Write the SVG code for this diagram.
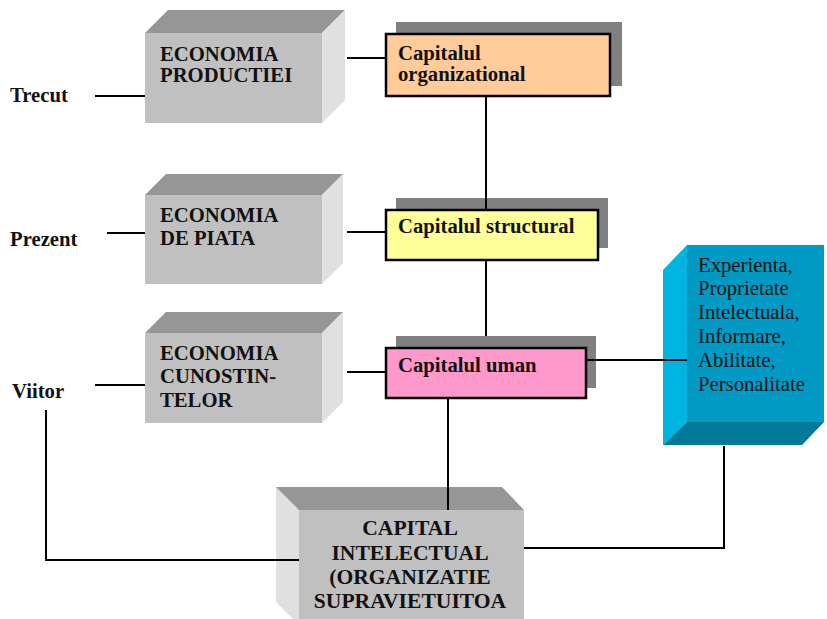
<svg xmlns="http://www.w3.org/2000/svg" width="827" height="619" viewBox="0 0 827 619">
<style>
text{font-family:"Liberation Serif","Times New Roman",serif;font-size:20.7px;fill:#111}
.b{font-weight:bold}
.big{font-size:21.6px}
.front{fill:#c0c0c0}
.top{fill:#969696}
.side{fill:#e0e0e0}
.shadow{fill:#808080}
.cap{stroke:#000;stroke-width:2.5}
.conn line,.conn polyline{stroke:#000;stroke-width:2;fill:none}
</style>
<rect width="827" height="619" fill="#fff"/>
<g id="lbl-trecut"><text class="b" x="10" y="102">Trecut</text></g>
<g id="lbl-prezent"><text class="b" x="10" y="246">Prezent</text></g>
<g id="lbl-viitor"><text class="b" x="12" y="398">Viitor</text></g>

<g id="eco-productiei">
<polygon class="top" points="145,33 168,10 345,10 322,33"/>
<polygon class="side" points="322,33 345,10 345,100 322,123"/>
<rect class="front" x="145" y="33" width="177" height="90"/>
<text class="b" x="160" y="61">ECONOMIA</text>
<text class="b" x="160" y="82">PRODUCTIEI</text>
</g>
<g id="eco-piata">
<polygon class="top" points="145,195 166,174 343,174 322,195"/>
<polygon class="side" points="322,195 343,174 343,263 322,284"/>
<rect class="front" x="145" y="195" width="177" height="89"/>
<text class="b" x="160" y="222">ECONOMIA</text>
<text class="b" x="160" y="245">DE PIATA</text>
</g>
<g id="eco-cunostintelor">
<polygon class="top" points="145,333 166,312 343,312 322,333"/>
<polygon class="side" points="322,333 343,312 343,402 322,423"/>
<rect class="front" x="145" y="333" width="177" height="90"/>
<text class="b" x="160" y="360">ECONOMIA</text>
<text class="b" x="160" y="383">CUNOSTIN-</text>
<text class="b" x="160" y="407">TELOR</text>
</g>

<g id="cap-organizational">
<rect class="shadow" x="396" y="22" width="226" height="64"/>
<rect class="cap" x="386" y="34" width="224" height="62" fill="#ffcc99"/>
<text class="b" x="398" y="60">Capitalul</text>
<text class="b" x="398" y="81">organizational</text>
</g>
<g id="cap-structural">
<rect class="shadow" x="396" y="198" width="212" height="50"/>
<rect class="cap" x="386" y="210" width="212" height="50" fill="#ffff99"/>
<text class="b" x="398" y="233">Capitalul structural</text>
</g>
<g id="cap-uman">
<rect class="shadow" x="396" y="336" width="200" height="52"/>
<rect class="cap" x="386" y="348" width="200" height="50" fill="#ff99cc"/>
<text class="b" x="398" y="372">Capitalul uman</text>
</g>

<g id="atribute">
<polygon points="663,270 687,245 687,422 663,445" fill="#00b4e1"/>
<polygon points="687,422 824,422 802,445 663,445" fill="#007a98"/>
<rect x="687" y="245" width="137" height="177" fill="#009ac4"/>
<text x="698" y="272">Experienta,</text>
<text x="698" y="295">Proprietate</text>
<text x="698" y="319">Intelectuala,</text>
<text x="698" y="343">Informare,</text>
<text x="698" y="367">Abilitate,</text>
<text x="698" y="391">Personalitate</text>
</g>

<g id="capital-intelectual">
<polygon class="side" points="276,487 299,510 299,625 276,602"/>
<polygon class="top" points="276,487 502,487 524,510 299,510"/>
<rect class="front" x="299" y="510" width="225" height="115"/>
<g text-anchor="middle">
<text class="b big" x="410" y="535">CAPITAL</text>
<text class="b big" x="410" y="560">INTELECTUAL</text>
<text class="b big" x="410" y="584">(ORGANIZATIE</text>
<text class="b big" x="410" y="608">SUPRAVIETUITOA</text>
</g>
</g>

<g id="connectors" class="conn">
<line x1="95" y1="96" x2="145" y2="96"/>
<line x1="107" y1="233" x2="145" y2="233"/>
<line x1="95" y1="385" x2="145" y2="385"/>
<line x1="347" y1="58" x2="386" y2="58"/>
<line x1="347" y1="232" x2="386" y2="232"/>
<line x1="347" y1="372" x2="386" y2="372"/>
<line x1="486" y1="97" x2="486" y2="209"/>
<line x1="486" y1="261" x2="486" y2="336"/>
<line x1="587" y1="360" x2="687" y2="360"/>
<line x1="448" y1="399" x2="448" y2="510"/>
<polyline points="46,410 46,560 299,560"/>
<polyline points="524,548 724,548 724,446"/>
</g>
</svg>
